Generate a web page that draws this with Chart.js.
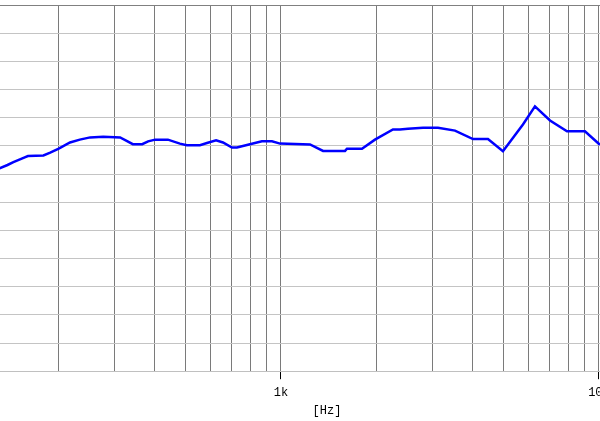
<!DOCTYPE html>
<html>
<head>
<meta charset="utf-8">
<script src="https://cdn.jsdelivr.net/npm/chart.js@4/dist/chart.umd.min.js"></script>
<style>
  html, body { margin: 0; padding: 0; background: #fff; overflow: hidden; }
  #wrap { width: 600px; height: 421px; overflow: hidden; }
</style>
</head>
<body>
<div id="wrap"><canvas id="fr" width="654" height="421"></canvas></div>
<script>
// frequency response
var freqHz = [130, 138, 144, 157, 160, 179, 188, 200, 217, 233, 251, 276, 312, 342, 366, 382, 402, 441, 481, 506,
  556, 585, 625, 657, 701, 727, 787, 871, 937, 993, 1234, 1356, 1590, 1613, 1798, 1975, 2250, 2367, 2508, 2797,
  3117, 3526, 4017, 4477, 4990, 5768, 6292, 7017, 7934, 9036, 10070];
var levelDb = [66.0, 66.6, 67.1, 68.0, 68.2, 68.3, 68.8, 69.5, 70.6, 71.1, 71.5, 71.6, 71.5, 70.3, 70.3, 70.8, 71.1, 71.1, 70.4, 70.1,
  70.1, 70.5, 71.0, 70.6, 69.7, 69.7, 70.2, 70.8, 70.8, 70.4, 70.25, 69.1, 69.1, 69.5, 69.5, 71.1, 72.9, 72.9, 73.05, 73.2,
  73.2, 72.7, 71.2, 71.2, 69.05, 73.8, 77.0, 74.5, 72.6, 72.6, 70.2];

var gridFreqs = [200, 300, 400, 500, 600, 700, 800, 900, 1000, 2000, 3000, 4000, 5000, 6000, 7000, 8000, 9000, 10000];
var tickLabels = { 1000: '1k', 10000: '10k' };
var xMin = 130.7, xMax = 14900;
var yMin = 30, yMax = 95, yStep = 5;

var points = [];
for (var i = 0; i < freqHz.length; i++) {
  points.push({ x: freqHz[i], y: levelDb[i] });
}

var axisFont = { family: 'Liberation Mono', size: 12 };

new Chart(document.getElementById('fr'), {
  type: 'line',
  data: {
    datasets: [{
      data: points,
      borderColor: '#0000ff',
      borderWidth: 2.5,
      pointRadius: 0,
      tension: 0,
      fill: false
    }]
  },
  options: {
    responsive: false,
    animation: false,
    devicePixelRatio: 1,
    layout: { padding: { top: 5, left: 0, right: 0, bottom: 0 } },
    plugins: { legend: { display: false }, tooltip: { enabled: false } },
    scales: {
      x: {
        type: 'logarithmic',
        min: xMin,
        max: xMax,
        afterBuildTicks: function(scale) {
          scale.ticks = gridFreqs.map(function(v) { return { value: v }; });
        },
        grid: {
          color: '#7a7a7a',
          lineWidth: 1,
          tickLength: 8,
          tickColor: function(ctx) {
            return (ctx.tick && tickLabels[ctx.tick.value]) ? '#000000' : 'rgba(0,0,0,0)';
          }
        },
        border: { display: true, color: '#c0c0c0' },
        ticks: {
          autoSkip: false,
          maxRotation: 0,
          padding: 6,
          color: '#000',
          font: axisFont,
          callback: function(v) { return tickLabels[v] || ''; }
        },
        title: {
          display: true,
          text: '[Hz]',
          color: '#000',
          font: axisFont,
          padding: { top: -2, bottom: 3 }
        }
      },
      y: {
        min: yMin,
        max: yMax,
        ticks: { display: false, stepSize: yStep },
        grid: {
          drawTicks: false,
          lineWidth: 1,
          color: function(ctx) {
            return (ctx.tick && ctx.tick.value === yMax) ? '#808080' : '#c4c4c4';
          }
        },
        border: { display: false }
      }
    }
  }
});
</script>
</body>
</html>
